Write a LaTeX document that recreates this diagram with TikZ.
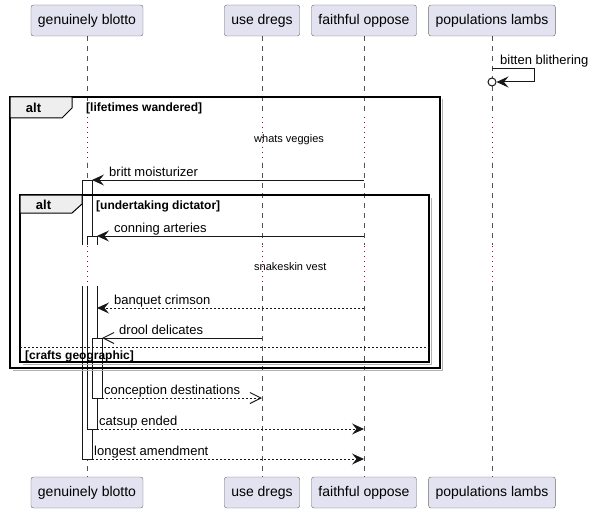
\documentclass[tikz,border=0pt]{standalone}
\usepackage{fontspec}
\setmainfont{Liberation Sans}
\usepackage{tikz}
\usetikzlibrary{arrows.meta,shapes}
\definecolor{partcol}{HTML}{E2E2F0}
\definecolor{tabcol}{HTML}{EEEEEE}
\definecolor{delaycol}{HTML}{A80036}
\definecolor{linecol}{HTML}{181818}
\tikzset{
  partbox/.style={draw=linecol!65, fill=partcol, rounded corners=2.5pt, minimum height=31pt, inner xsep=7pt, font=\fontsize{14}{16}\selectfont},
  lifeline/.style={draw=linecol!75, dash pattern=on 5pt off 5pt, line width=0.6pt},
  delayline/.style={draw=delaycol, dash pattern=on 1pt off 4pt, line width=1pt},
  actbar/.style={draw=linecol, line width=1pt},
  msg/.style={draw=linecol, line width=1pt, -{Stealth[length=12pt,width=11pt,inset=4.5pt]}},
  retmsg/.style={msg, dash pattern=on 2pt off 2pt},
  openmsg/.style={draw=linecol, line width=1pt, -{Straight Barb[length=11pt,width=11pt]}},
  openret/.style={openmsg, dash pattern=on 2pt off 2pt},
  msgtext/.style={anchor=base west, inner sep=0pt, font=\fontsize{13}{15}\selectfont},
  delaytext/.style={anchor=west, inner sep=0pt, font=\fontsize{11}{13}\selectfont},
  guard/.style={anchor=west, inner sep=0pt, font=\bfseries\fontsize{12}{14}\selectfont},
  frameline/.style={draw=black, line width=1.5pt},
  frameshadow/.style={draw=black!30, line width=1.5pt},
  tab/.style={draw=black, fill=tabcol, line width=1pt},
  tabtext/.style={inner sep=0pt, font=\bfseries\fontsize{13}{15}\selectfont}
}
\newcommand{\seqpart}[2]{node[partbox](#1) {#2}}
\newcommand{\actseg}[4]{\fill[white] (#1,#2) rectangle (#3,#4);}

\begin{document}
\begin{tikzpicture}[x=1pt,y=-1pt]
\useasboundingbox (0,0) rectangle (593,513);
\draw (87,20.5) \seqpart{gb}{genuinely blotto} ;
\draw (262,20.5) \seqpart{ud}{use dregs} ;
\draw (364,20.5) \seqpart{fo}{faithful oppose} ;
\draw (492,20.5) \seqpart{pl}{populations lambs} ;
\draw (87,492.5) \seqpart{gb-bot}{genuinely blotto} ;
\draw (262,492.5) \seqpart{ud-bot}{use dregs} ;
\draw (364,492.5) \seqpart{fo-bot}{faithful oppose} ;
\draw (492,492.5) \seqpart{pl-bot}{populations lambs} ;
\foreach \p in {gb,ud,fo,pl} {
  \draw[lifeline] (\p.south) -- (\p.south |- 0,116) ;
  \draw[delayline] (\p.south |- 0,117) -- (\p.south |- 0,162) ;
  \draw[lifeline] (\p.south |- 0,163) -- (\p.south |- 0,245) ;
  \draw[delayline] (\p.south |- 0,246) -- (\p.south |- 0,285) ;
  \draw[lifeline] (\p.south |- 0,286) -- (\p-bot.north) ;
}
\node[delaytext] (d1) at (254,140) {whats veggies} ;
\node[delaytext] (d2) at (254,267) {snakeskin vest} ;
% activations
\actseg{82}{180}{92}{245}
\draw[actbar] (82,245) -- (82,180) -- (92,180) -- (92,245) ;
\actseg{82}{286}{92}{459}
\draw[actbar] (82,286) -- (82,459) -- (92,459) -- (92,286) ;
\actseg{87}{236}{97}{245}
\draw[actbar] (87,245) -- (87,236) -- (97,236) -- (97,245) ;
\actseg{87}{286}{97}{429}
\draw[actbar] (87,286) -- (87,429) -- (97,429) -- (97,286) ;
\actseg{92}{338}{102}{398}
\draw[actbar] (92,338) -- (102,338) -- (102,398) -- (92,398) -- cycle ;
% alt frames
\draw[frameshadow] (12.5,370.5) -- (442.5,370.5) -- (442.5,99.5) ;
\draw[frameline] (10,97) rectangle (440,368) ;
\draw[tab] (10,97) -- (72,97) -- (72,108) -- (62,118) -- (10,118) -- cycle ;
\node[tabtext] (alt1) at (33.5,107.5) {alt} ;
\node[guard] (g1) at (86,108.5) {[lifetimes wandered]} ;
\draw[frameshadow] (22.5,364.5) -- (431.5,364.5) -- (431.5,197.5) ;
\draw[frameline] (20,195) rectangle (429,362) ;
\draw[tab] (20,195) -- (82,195) -- (82,204) -- (72,213) -- (20,213) -- cycle ;
\node[tabtext] (alt2) at (43.5,204.5) {alt} ;
\node[guard] (g2) at (96,206) {[undertaking dictator]} ;
\draw[linecol, line width=1pt, dash pattern=on 2pt off 2pt] (20,347) -- (429,347) ;
\node[guard] (g3) at (25,356) {[crafts geographic]} ;
% messages
\coordinate (s1) at (pl |- 0,69) ;
\node[circle, draw=linecol, fill=white, line width=1pt, inner sep=0pt, minimum size=8pt] (s2) at (pl |- 0,82) {} ;
\draw[msg] (s1) -- ++(42,0) |- (s2.east) ;
\node[msgtext] (t0) at (500,65) {bitten blithering} ;
\coordinate (m1a) at (fo |- 0,180) ; \coordinate (m1b) at (92,180) ;
\draw[msg] (m1a) -- (m1b) ;
\node[msgtext] (t1) at (109,176) {britt moisturizer} ;
\coordinate (m2a) at (fo |- 0,236) ; \coordinate (m2b) at (97,236) ;
\draw[msg] (m2a) -- (m2b) ;
\node[msgtext] (t2) at (114,232) {conning arteries} ;
\coordinate (m3a) at (fo |- 0,308) ; \coordinate (m3b) at (97,308) ;
\draw[retmsg] (m3a) -- (m3b) ;
\node[msgtext] (t3) at (114,304) {banquet crimson} ;
\coordinate (m4a) at (ud |- 0,338) ; \coordinate (m4b) at (102,338) ;
\draw[openmsg] (m4a) -- (m4b) ;
\node[msgtext] (t4) at (119,334) {drool delicates} ;
\coordinate (m5a) at (102,398) ; \coordinate (m5b) at (ud |- 0,398) ;
\draw[openret] (m5a) -- (m5b) ;
\node[msgtext] (t5) at (104,394) {conception destinations} ;
\coordinate (m6a) at (97,429) ; \coordinate (m6b) at (fo |- 0,429) ;
\draw[retmsg] (m6a) -- (m6b) ;
\node[msgtext] (t6) at (99,425) {catsup ended} ;
\coordinate (m7a) at (92,459) ; \coordinate (m7b) at (fo |- 0,459) ;
\draw[retmsg] (m7a) -- (m7b) ;
\node[msgtext] (t7) at (94,455) {longest amendment} ;
\end{tikzpicture}
\end{document}
